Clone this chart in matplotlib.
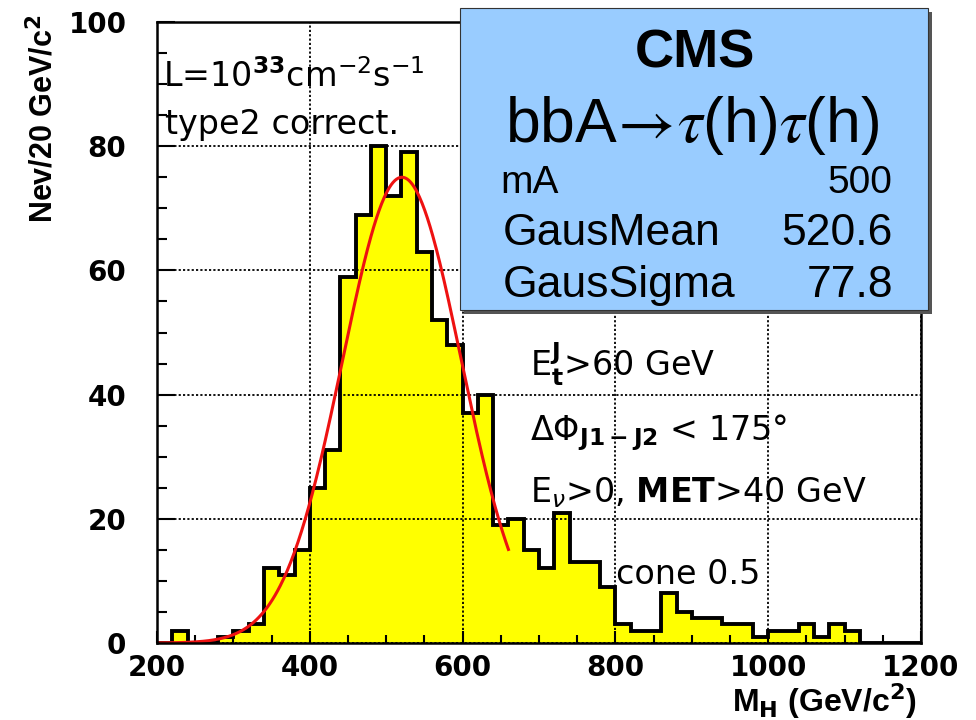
import numpy as np
import matplotlib
matplotlib.use("Agg")
import matplotlib.pyplot as plt
from matplotlib.patches import Rectangle
from matplotlib.ticker import MultipleLocator

# --- data -------------------------------------------------------------
bin_edges = np.arange(200, 1220, 20)          # 20 GeV bins, 200..1200
counts = [0, 2, 0, 0, 1, 2, 3, 12, 11, 15,
          25, 31, 59, 69, 80, 72, 79, 63, 52, 48,
          37, 40, 19, 20, 15, 12, 21, 13, 13, 9,
          3, 2, 2, 8, 5, 4, 4, 3, 3, 1,
          2, 2, 3, 1, 3, 2, 0, 0, 0, 0]

# Gaussian fit result
fit_amplitude = 75.0
fit_mean = 520.6
fit_sigma = 77.8
fit_range = (200, 660)
m_A = 500

x_ticks = [200, 400, 600, 800, 1000, 1200]
y_ticks = [0, 20, 40, 60, 80, 100]

# --- figure -----------------------------------------------------------
W, H = 976, 720
fig = plt.figure(figsize=(W / 100, H / 100), dpi=100)
fig.patch.set_facecolor("white")
plt.rcParams["mathtext.fontset"] = "dejavusans"


def fx(px):
    return px / W


def fy(py):
    return 1 - py / H


ax = fig.add_axes([fx(157), fy(643), (921 - 157) / W, (643 - 22) / H])
ax.set_xlim(200, 1200)
ax.set_ylim(0, 100)

ax.stairs(counts, bin_edges, fill=True, color="#ffff00", zorder=1)
ax.stairs(counts, bin_edges, fill=False, color="black", lw=2.8,
          baseline=0, zorder=3)

xf = np.linspace(fit_range[0], fit_range[1], 400)
yf = fit_amplitude * np.exp(-0.5 * ((xf - fit_mean) / fit_sigma) ** 2)
ax.plot(xf, yf, color="#ee1111", lw=2.2, zorder=4)

ax.set_axisbelow(False)
ax.grid(True, which="major", color="black", lw=1.3, ls=(0, (1.2, 1.2)))

ax.set_xticks(x_ticks)
ax.set_yticks(y_ticks)
ax.xaxis.set_minor_locator(MultipleLocator(50))
ax.yaxis.set_minor_locator(MultipleLocator(5))
ax.tick_params(axis="both", which="both", direction="in", color="black",
               width=1.5, top=False, right=False)
ax.tick_params(axis="y", which="major", length=13, pad=22)
ax.tick_params(axis="y", which="minor", length=7)
ax.tick_params(axis="x", which="major", length=9, pad=8)
ax.tick_params(axis="x", which="minor", length=6)
for lab in ax.get_xticklabels() + ax.get_yticklabels():
    lab.set_fontfamily("DejaVu Sans")
    lab.set_fontweight("bold")
    lab.set_fontsize(20)
for sp in ax.spines.values():
    sp.set_linewidth(1.8)
    sp.set_zorder(5)

# axis titles
fig.text(fx(917), fy(712), r"M$_{\mathbf{H}}$ (GeV/c$^{\mathbf{2}}$)",
         ha="right", va="baseline", fontsize=23, fontweight="bold",
         family="Liberation Sans")
fig.text(fx(44), fy(14), r"Nev/20 GeV/c$^{\mathbf{2}}$", rotation=90,
         ha="center", va="top", fontsize=22, fontweight="bold",
         family="Liberation Sans")

# annotations inside the frame
note_kw = dict(fontsize=24, family="DejaVu Sans", va="baseline", ha="left",
               zorder=6)
fig.text(fx(163), fy(87), r"L=10$^{\mathbf{33}}$cm$^{-2}$s$^{-1}$", **note_kw)
fig.text(fx(165), fy(134), "type2 correct.", **note_kw)
fig.text(fx(530), fy(376), r"E$_{\mathbf{t}}^{\mathbf{J}}$>60 GeV", **note_kw)
fig.text(fx(530), fy(440), r"$\Delta\Phi_{\mathbf{J1-J2}}$ < 175°", **note_kw)
fig.text(fx(530), fy(502), r"E$_{\nu}$>0, $\mathbf{MET}$>40 GeV", **note_kw)
fig.text(fx(616), fy(584), "cone 0.5", **note_kw)

# statistics box with drop shadow
bx0, by0, bx1, by1 = 460, 8, 928, 310
fig.add_artist(Rectangle((fx(bx0 + 4), fy(by1 + 4)), (bx1 - bx0) / W,
                         (by1 - by0) / H, transform=fig.transFigure,
                         facecolor="#555555", edgecolor="none", zorder=7))
fig.add_artist(Rectangle((fx(bx0), fy(by1)), (bx1 - bx0) / W,
                         (by1 - by0) / H, transform=fig.transFigure,
                         facecolor="#99ccff", edgecolor="#333333", lw=0.8,
                         zorder=8))
box_kw = dict(family=["Liberation Sans", "DejaVu Sans"], zorder=9,
              va="baseline")
fig.text(fx(695), fy(67), "CMS", ha="center", fontsize=39, fontweight="heavy",
         **box_kw)
fig.text(fx(505), fy(142), r"bbA$\!\rightarrow\!\tau$(h)$\tau$(h)",
         ha="left", fontsize=45, math_fontfamily="stix", **box_kw)
fig.text(fx(500), fy(193), "mA", ha="left", fontsize=28, **box_kw)
fig.text(fx(892), fy(193), f"{m_A}", ha="right", fontsize=28, **box_kw)
fig.text(fx(503), fy(245), "GausMean", ha="left", fontsize=32, **box_kw)
fig.text(fx(893), fy(245), f"{fit_mean:.1f}", ha="right", fontsize=32, **box_kw)
fig.text(fx(503), fy(297), "GausSigma", ha="left", fontsize=32, **box_kw)
fig.text(fx(893), fy(297), f"{fit_sigma:.1f}", ha="right", fontsize=32, **box_kw)

fig.savefig("out.png", dpi=100)
